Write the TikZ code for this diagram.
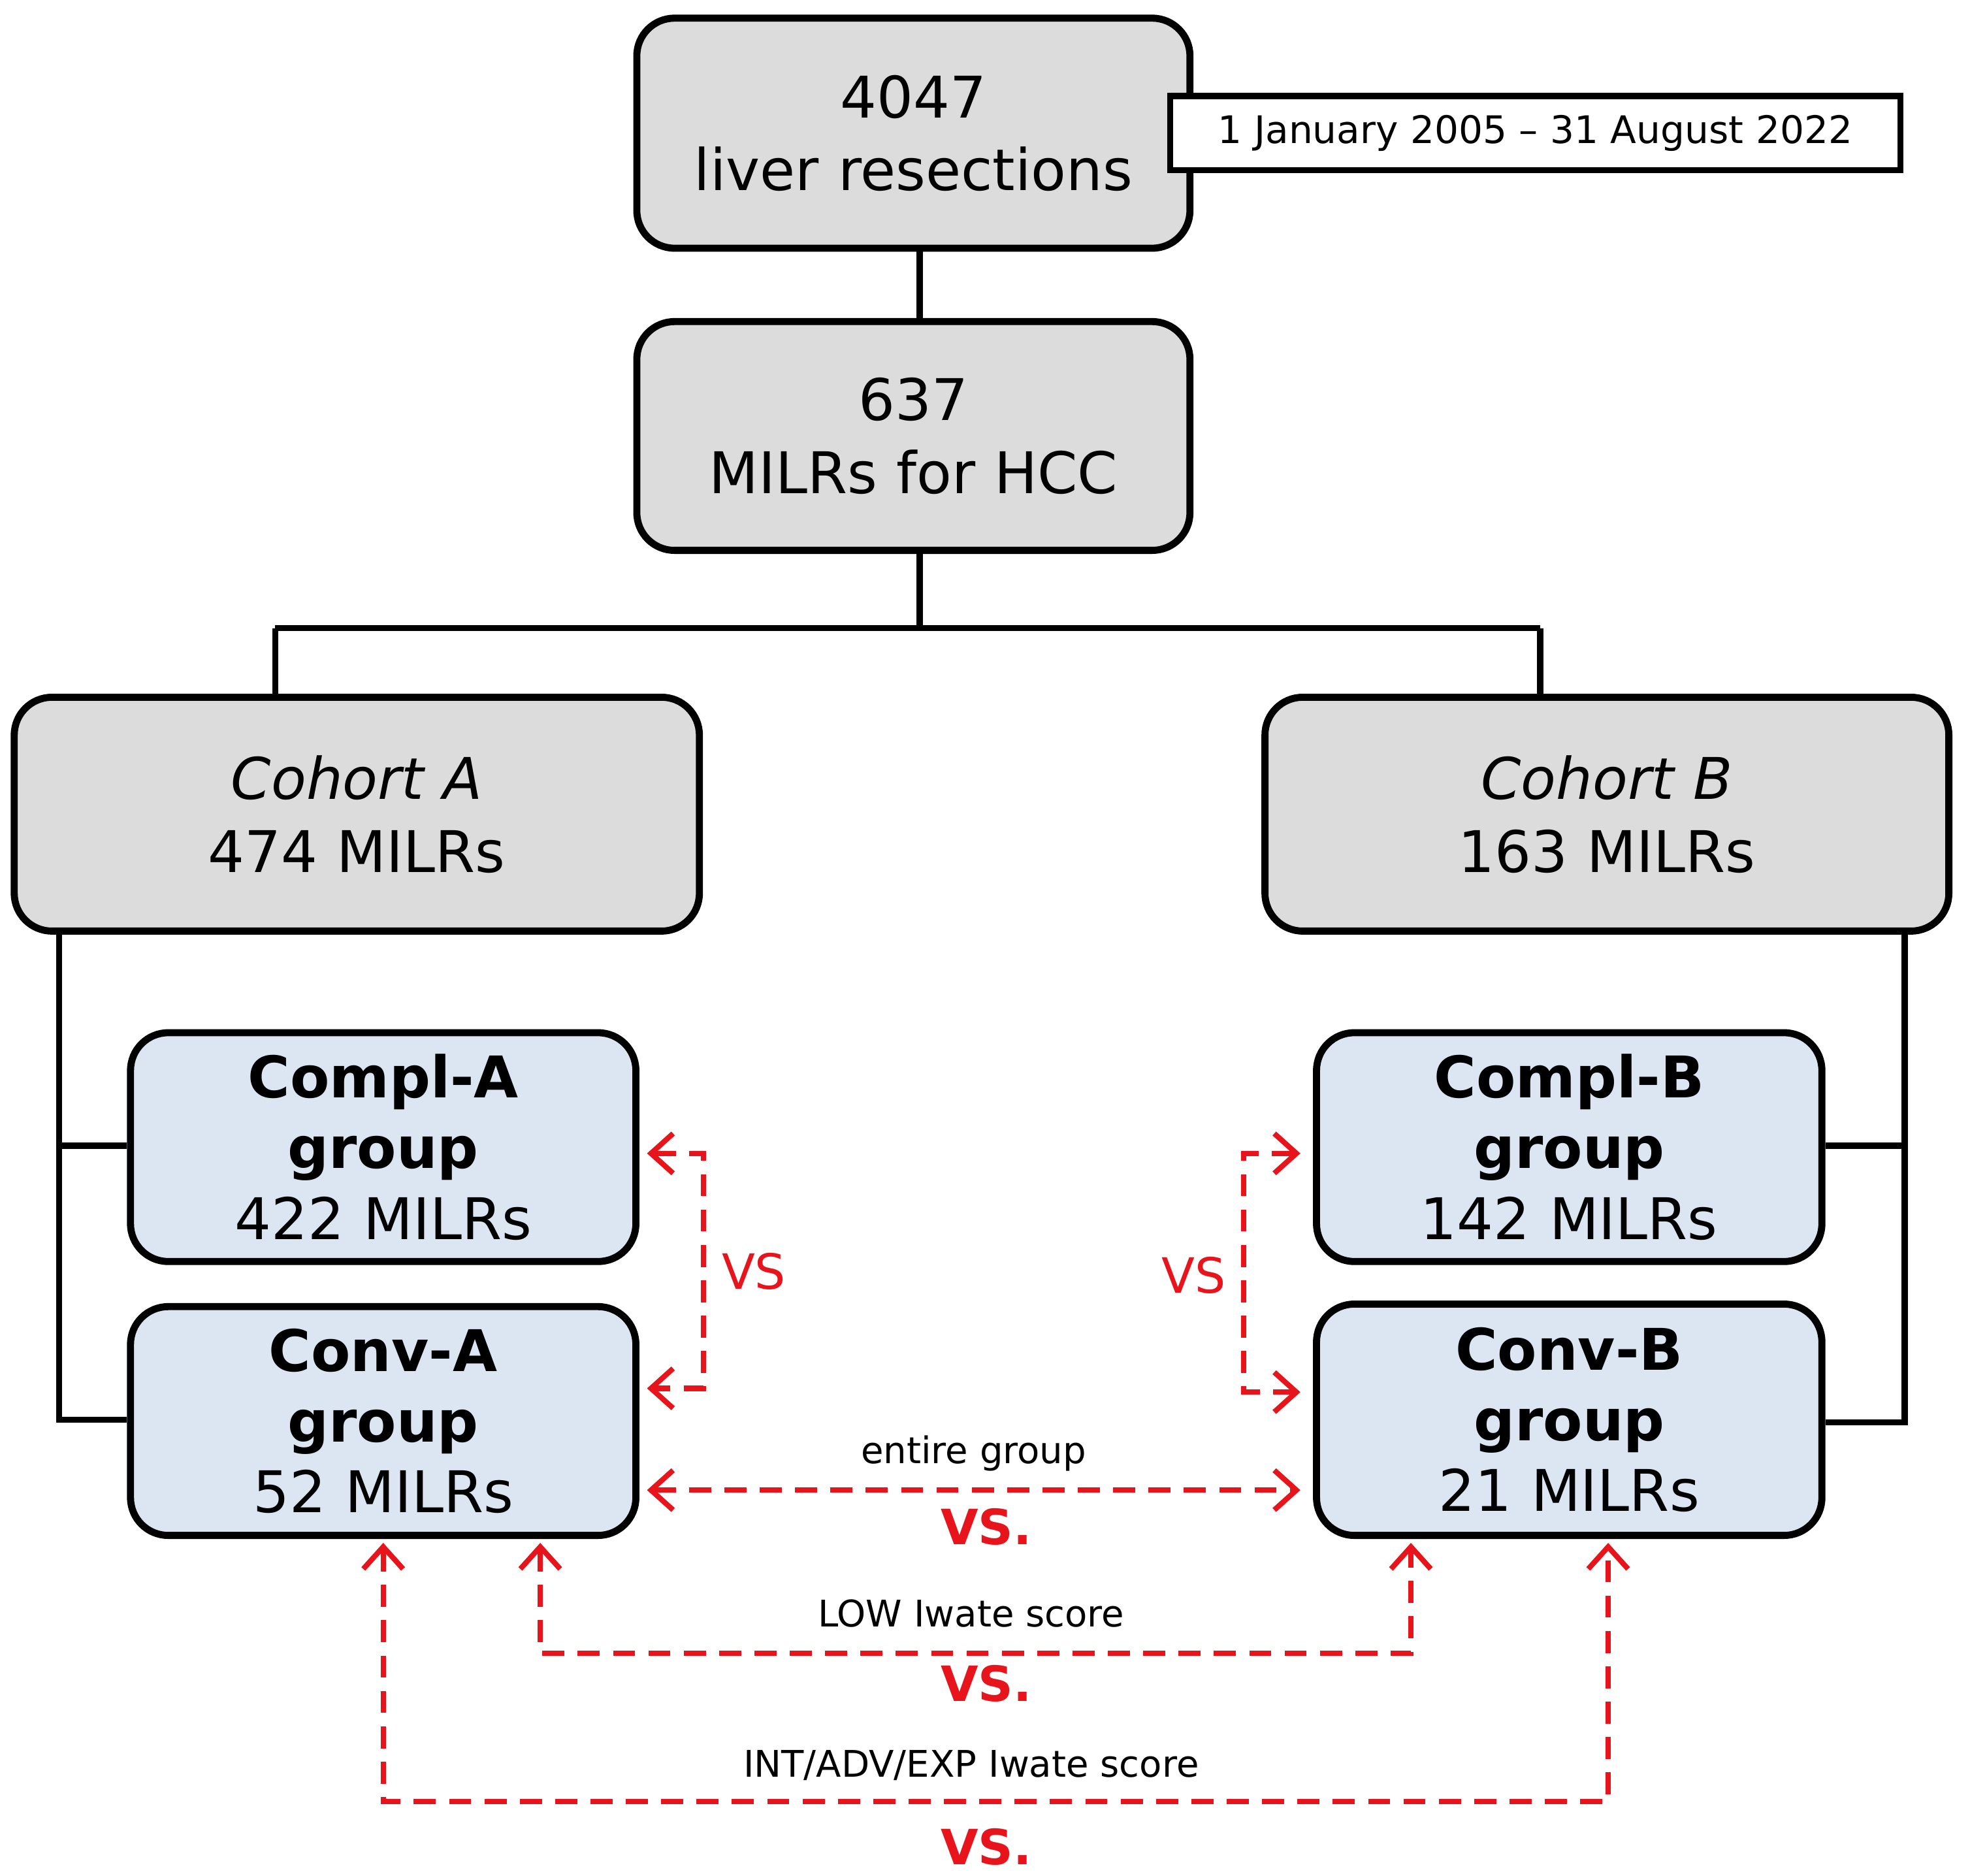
\documentclass[tikz,border=0pt]{standalone}
\usepackage{fontspec}
\setmainfont{DejaVu Sans}
\usetikzlibrary{arrows.meta,calc}
\definecolor{gbox}{HTML}{DCDCDC}
\definecolor{bbox}{HTML}{DCE6F2}
\definecolor{rd}{HTML}{E8141C}
\begin{document}
\begin{tikzpicture}[x=0.01cm,y=-0.01cm,
  box/.style={draw=black,line width=1.6pt,rounded corners=0.3cm,align=center,inner sep=0pt,font=\fontsize{13}{16.5}\selectfont},
  grey/.style={box,fill=gbox},
  blue/.style={box,fill=bbox,font=\fontsize{13}{16}\selectfont},
  conn/.style={line width=1.4pt},
  rarr/.style={draw=rd,line width=1.2pt,dash pattern=on 5pt off 3pt,{Straight Barb[length=5pt,width=9pt]}-{Straight Barb[length=5pt,width=9pt]}},
  vs/.style={text=rd,font=\fontsize{11}{13}\selectfont},
  lab/.style={font=\fontsize{8.3}{10}\selectfont}]
\useasboundingbox (0,0) rectangle (1568,1493);
\node[grey,text width=4.4cm,minimum height=1.83cm] (n1) at (727,106) {4047\\liver resections};
\node[draw=black,line width=1.4pt,fill=white,minimum width=5.81cm,minimum height=0.59cm,inner sep=0pt,font=\fontsize{8.6}{10}\selectfont] (date) at (1222,106) {1 January 2005 – 31 August 2022};
\node[grey,text width=4.4cm,minimum height=1.82cm] (n2) at (727,347) {637\\MILRs for HCC};
\node[grey,text width=5.45cm,minimum height=1.86cm] (ca) at (284,648) {\textit{Cohort A}\\474 MILRs};
\node[grey,text width=5.44cm,minimum height=1.86cm] (cb) at (1279,648) {\textit{Cohort B}\\163 MILRs};
\node[blue,text width=4.02cm,minimum height=1.82cm] (pa) at (305,913) {\textbf{Compl-A}\\\textbf{group}\\422 MILRs};
\node[blue,text width=4.02cm,minimum height=1.82cm] (va) at (305,1131) {\textbf{Conv-A}\\\textbf{group}\\52 MILRs};
\node[blue,text width=4.02cm,minimum height=1.82cm] (pb) at (1249,913) {\textbf{Compl-B}\\\textbf{group}\\142 MILRs};
\node[blue,text width=4.02cm,minimum height=1.84cm] (vb) at (1249,1130) {\textbf{Conv-B}\\\textbf{group}\\21 MILRs};
\draw[conn] (n1.south -| 732,0) -- (n2.north -| 732,0);
\coordinate (j) at (732,500);
\draw[conn] (n2.south -| j) -- (j);
\draw[conn] (219,500) -- (1226,500);
\draw[conn] (219,500) -- (ca.north -| 219,0);
\draw[conn] (1226,500) -- (cb.north -| 1226,0);
\draw[conn] (ca.south -| 47,0) -- (47,1130) -- (va.west |- 0,1130);
\draw[conn] (47,912) -- (pa.west |- 0,912);
\draw[conn] (cb.south -| 1516,0) -- (1516,1132) -- (vb.east |- 0,1132);
\draw[conn] (1516,912) -- (pb.east |- 0,912);
\draw[rarr] (515,918) -- (560,918) -- (560,1105) -- (515,1105);
\node[vs] (v1) at (600,1012) {VS};
\draw[rarr] (1035,918) -- (990,918) -- (990,1108) -- (1035,1108);
\node[vs] (v2) at (950,1015) {VS};
\draw[rarr] (515,1186) -- (1035,1186);
\node[lab] (l1) at (775,1157) {entire group};
\node[vs] (v3) at (785,1215) {\textbf{VS.}};
\draw[rarr] (430,1228) -- (430,1316) -- (1123,1316) -- (1123,1228);
\node[lab] (l2) at (773,1284) {LOW Iwate score};
\node[vs] (v4) at (785,1340) {\textbf{VS.}};
\draw[rarr] (305,1228) -- (305,1434) -- (1280,1434) -- (1280,1228);
\node[lab] (l3) at (773,1405) {INT/ADV/EXP Iwate score};
\node[vs] (v5) at (785,1470) {\textbf{VS.}};
\end{tikzpicture}
\end{document}
